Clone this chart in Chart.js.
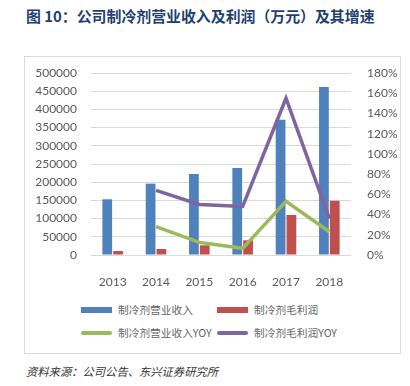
<!DOCTYPE html>
<html lang="zh">
<head>
    <meta charset="UTF-8">
    <title>制冷剂营业收入及利润</title>
    <script src="https://cdn.jsdelivr.net/npm/chart.js"></script>
    <style>
        body{
            margin: 0;
            background: #fff;
            width: 410px;
            height: 386px;
            position: relative;
            overflow: hidden;
            font-family: "Noto Sans CJK SC", sans-serif;
        }
        #title{
            position: absolute;
            left: 26px;
            top: 5px;
            font-size: 14.9px;
            font-weight: bold;
            color: #1f3f73;
            white-space: nowrap;
        }
        #box{
            position: absolute;
            left: 24px;
            top: 56px;
            width: 375px;
            height: 296px;
            border: 1px solid #d9d9d9;
        }
        #wrap{
            position: absolute;
            left: 0;
            top: 0;
            width: 410px;
            height: 300px;
        }
        .lg{
            position: absolute;
            display: flex;
            align-items: center;
            font-size: 10.7px;
            color: #666;
            white-space: nowrap;
        }
        .lg span.sw{
            display: inline-block;
            width: 31px;
            margin-right: 6px;
        }
        #source{
            position: absolute;
            left: 26px;
            top: 363px;
            font-size: 11.3px;
            font-style: italic;
            color: #333;
        }
    </style>
</head>
<body>

<div id="title">图 10：公司制冷剂营业收入及利润（万元）及其增速</div>
<div id="box"></div>
<div id="wrap"><canvas id="c"></canvas></div>
<div id="legend"></div>
<div id="source">资料来源：公司公告、东兴证券研究所</div>

<script>
    const years = ['2013', '2014', '2015', '2016', '2017', '2018'];
    const revenue = [153000, 196000, 222500, 239000, 371700, 461500];
    const profit = [11000, 16500, 26600, 40400, 110000, 149000];
    const revenueYoy = [null, 28, 12.5, 6.6, 53, 23];
    const profitYoy = [null, 64, 50, 48, 155, 36];

    const names = ['制冷剂营业收入', '制冷剂毛利润', '制冷剂营业收入YOY', '制冷剂毛利润YOY'];
    const colors = ['#4f81bd', '#c0504d', '#9bbb59', '#8064a2'];

    const tickFont = { family: 'Lato, "Noto Sans", sans-serif', size: 12 };
    const grey = '#595959';

    new Chart(document.getElementById('c'), {
        data: {
            labels: years,
            datasets: [
                { type: 'bar', label: names[0], data: revenue, backgroundColor: colors[0], yAxisID: 'y', order: 2,
                  categoryPercentage: 0.5, barPercentage: 0.9 },
                { type: 'bar', label: names[1], data: profit, backgroundColor: colors[1], yAxisID: 'y', order: 2,
                  categoryPercentage: 0.5, barPercentage: 0.9 },
                { type: 'line', label: names[2], data: revenueYoy, borderColor: colors[2], borderWidth: 3.5,
                  pointRadius: 0, yAxisID: 'y1', order: 1 },
                { type: 'line', label: names[3], data: profitYoy, borderColor: colors[3], borderWidth: 3.5,
                  pointRadius: 0, yAxisID: 'y1', order: 1 }
            ]
        },
        options: {
            responsive: true,
            maintainAspectRatio: false,
            animation: false,
            layout: { padding: { top: 73, left: 0, right: 0, bottom: 0 } },
            plugins: { legend: { display: false }, tooltip: { enabled: false } },
            scales: {
                x: {
                    grid: { display: false },
                    border: { display: false },
                    ticks: { color: grey, font: tickFont, padding: 12, maxRotation: 0 },
                    afterFit: s => { s.height = 45; }
                },
                y: {
                    position: 'left',
                    min: 0, max: 500000,
                    ticks: { stepSize: 50000, color: grey, font: tickFont, padding: 14, callback: v => String(v) },
                    grid: { color: '#d9d9d9', drawTicks: false },
                    border: { display: false },
                    afterFit: s => { s.width = 91; }
                },
                y1: {
                    position: 'right',
                    min: 0, max: 180,
                    ticks: { stepSize: 20, color: grey, font: tickFont, padding: 16, callback: v => v + '%' },
                    grid: { display: false, drawTicks: false },
                    border: { display: false },
                    afterFit: s => { s.width = 59; }
                }
            }
        }
    });

    // legend in two columns, like the original
    const legend = document.getElementById('legend');
    const spots = [[81, 311], [217, 311], [81, 334], [217, 334]];
    names.forEach((n, i) => {
        const d = document.createElement('div');
        d.className = 'lg';
        d.style.left = spots[i][0] + 'px';
        d.style.top = (spots[i][1] - 9) + 'px';
        const h = i < 2 ? 6 : 4;
        d.innerHTML = '<span class="sw" style="height:' + h + 'px;background:' + colors[i] +
            (i < 2 ? '' : ';border-radius:2px') + '"></span>' + n;
        legend.appendChild(d);
    });
</script>
</body>
</html>
